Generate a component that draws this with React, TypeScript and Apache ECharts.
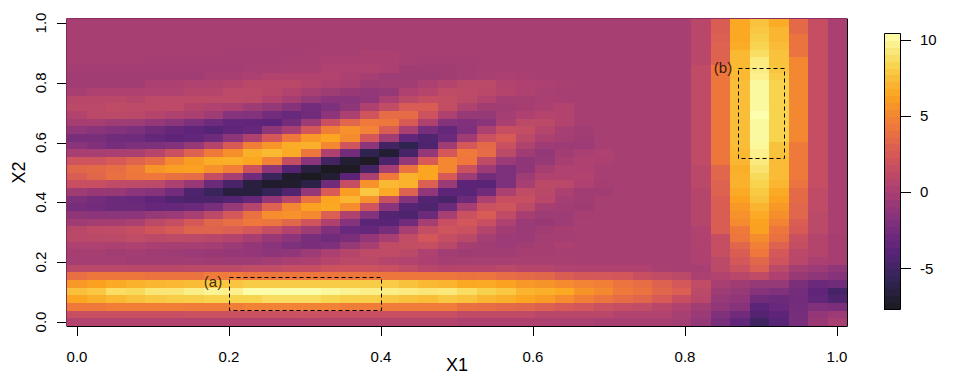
import React, { useEffect, useRef } from "react";
import * as echarts from "echarts";

// Rows run from the top of the plot (X2 = 1) to the bottom (X2 = 0); 40 columns, X1 = 0 to 1.
const Z = 0;
const heatRows: number[][] = [
  [Z,Z,Z,Z,Z,Z,Z,Z,Z,Z,Z,Z,Z,Z,Z,Z,Z,Z,Z,Z, Z,Z,Z,Z,Z,Z,Z,Z,Z,Z,Z, -.05,.8,2.7,6.5,7.6,6.7,3.5,1.5,.1],
  [Z,Z,Z,Z,Z,Z,Z,Z,Z,Z,Z,Z,Z,Z,Z,Z,Z,Z,Z,Z, Z,Z,Z,Z,Z,Z,Z,Z,Z,Z,Z, -.05,.8,2.7,6.5,7.8,7.1,3.5,1.5,.1],
  [Z,Z,Z,Z,Z,Z,Z,Z,Z,Z,Z,Z,Z,Z,Z,Z,Z,Z,Z,Z, Z,Z,Z,Z,Z,Z,Z,Z,Z,Z,Z, -.05,.8,2.8,6.5,8.1,7.1,4,1.5,.1],
  [Z,Z,Z,Z,Z,Z,Z,Z,Z,Z,Z,-.1,-.1,Z,Z,Z,Z,Z,Z,Z, Z,Z,Z,Z,Z,Z,Z,Z,Z,Z,Z, -.05,.8,3,6.7,8.4,7.3,4,1.5,.1],
  [Z,Z,Z,Z,Z,Z,Z,Z,-.15,-.15,-.15,-.15,Z,Z,Z,.2,.2,Z,Z,Z, Z,Z,Z,Z,Z,Z,Z,Z,Z,Z,Z, -.05,.8,3,7.2,8.8,7.6,4,1.5,.1],
  [Z,Z,Z,Z,-.2,-.2,-.2,-.2,-.2,-.2,-.2,Z,Z,.2,.2,.2,.2,Z,-.2,-.2, -.2,Z,Z,Z,Z,Z,Z,Z,Z,Z,Z, -.05,.8,3,7.2,9.4,7.6,5,1.5,.1],
  [-.25,-.25,-.25,-.25,-.25,-.25,-.25,-.25,-.25,Z,Z,.1,.1,.4,.4,.4,.2,-.3,-.3,-.3, -.2,Z,Z,Z,Z,Z,Z,Z,Z,Z,Z, -.05,1.2,4.2,7.2,9.5,7.7,5,1.5,.1],
  [-.3,-.3,-.3,-.3,-.3,-.3,-.3,Z,Z,.2,.5,.5,.5,.5,.2,Z,-.5,-.5,-.5,-.3, -.2,.1,.2,.1,Z,Z,Z,Z,Z,Z,Z, -.05,1.2,4.2,7.2,9.7,8,5,1.5,.1],
  [-.3,-.3,-.3,-.3,.2,.2,.4,.4,.6,.9,.9,.9,.6,.3,.1,-.4,-.3,-.3,.2,.6, 1,1,.5,.3,.2,.1,Z,Z,Z,Z,Z, -.05,1.2,4.2,7.4,10.1,8.3,5,1.5,.1],
  [Z,.3,.3,.3,.4,.4,.7,.7,1.1,1.1,.8,.5,Z,-.5,-.8,-1.1,-.9,.3,.7,1.2, 1.1,.9,.6,.3,.1,Z,Z,Z,Z,Z,Z, -.05,1.2,4.2,7.4,10.1,8.3,5,1.5,.1],
  [.8,.8,.9,.7,1.1,1.1,1.1,1.1,1.1,1,.5,-.1,-.9,-1.6,-1.6,-1.2,.1,1,1.5,1.4, 1,.5,-.2,-.1,.1,Z,Z,Z,Z,Z,Z, -.05,1.2,4.2,7.4,10.1,8.3,5,1.5,.1],
  [1,1,1.2,1.1,1.1,1.1,.6,.4,.2,-.5,-1,-1.7,-2.7,-2.2,-1.3,.3,1.3,2.6,2.6,1.4, .4,-.3,-.3,-.1,.2,.5,Z,Z,Z,Z,Z, -.05,1.2,4.2,7.4,10.1,8.3,5,1.5,.1],
  [.5,1,1,.9,.6,.3,.1,-.5,-1.8,-1.9,-2.7,-3.2,-2.8,-1.4,.2,2,3.6,3.6,1.9,.3, -.9,-.9,-.2,.3,.6,.5,Z,Z,Z,Z,Z, -.05,1.2,4.2,7.4,10.4,8.3,5,1.5,.1],
  [-.1,-.1,-.5,-.5,-1,-1.5,-2.2,-2.9,-3.5,-3.6,-3.7,-2.6,-.6,1.7,3.2,4.4,4.2,2.5,.3,-1.9, -2,-1.6,.1,1,1,.5,Z,Z,Z,Z,Z, -.05,1.2,4.2,7.4,10.1,8.3,5,1.5,.1],
  [-1.2,-1.6,-1.9,-2.2,-2.8,-3.3,-3.6,-4.1,-3.6,-3.3,-1.3,Z,2.2,4.6,5.5,4.8,2.7,.1,-2.5,-3.4, -2.1,.2,1.6,1.4,.7,Z,-.3,Z,Z,Z,Z, -.05,1.2,4.2,7.4,10.1,8.3,5,1.5,.1],
  [-2.4,-2.4,-2.8,-2.9,-3.4,-3.7,-3.5,-2.9,-1.4,.3,2.3,4.3,5.8,6.4,5.2,2.3,-.3,-3.5,-4.3,-3, -.4,1.8,2.5,1,.2,-.2,-.4,Z,Z,Z,Z, -.05,1.2,4.2,7.4,10.1,8.3,5,1.5,.1],
  [-1.6,-2,-2.5,-2.2,-2.2,-1.9,-.9,.6,2.5,4.6,5.7,6.7,6.8,5,2,-1.4,-5,-6,-4.4,-.4, 2.3,3.5,1.7,.4,-.5,-.6,-.6,Z,Z,Z,Z, -.05,1.2,4.2,7.4,10,7.6,4.4,1.5,.1],
  [Z,Z,.1,.1,.7,1.7,3,4.4,5.4,6.8,7.2,6.6,4.2,.3,-2.7,-6,-7,-4.8,-1,2.3, 4.4,3.6,1,-.4,-1,-.3,.1,.3,Z,Z,Z, -.05,1.2,4.2,7.2,9.7,7.6,4.4,1.5,.1],
  [2,2,2.5,3.1,3.7,5.1,6,6.7,6.8,6.4,4.8,1.4,-1.6,-5,-7,-7.5,-4.6,-1,2.5,5, 4.3,1.2,-.7,-1.3,-.9,Z,.3,.2,Z,Z,Z, -.05,1.2,4.2,7.1,9.4,7.3,4.4,1.5,.1],
  [3.3,3.5,3.7,4.4,5.7,6.1,6.2,5.5,4.7,1.9,-1.3,-4.2,-6.5,-7.7,-7.5,-4.9,-.2,4,6.4,5, 1.8,-.6,-2.2,-1.3,-.1,.4,.3,Z,Z,Z,Z, -.05,.9,3.2,6.8,9,7.3,4.4,1.5,.1],
  [2.7,3.2,3.9,4.2,4.3,3.9,3.6,1.4,-.2,-2.8,-5.4,-7.3,-7.7,-7,-3.8,.2,4.4,6.9,6.4,2.5, -.5,-2.6,-2.2,-.5,.4,.4,.5,Z,Z,Z,Z, Z,.9,3.2,6.9,8.6,7.3,4.4,1.5,.1],
  [1.6,1.6,1.2,1.1,1,.2,-.8,-3,-4.7,-6.6,-7.3,-7.2,-6.3,-2.8,1.5,5.5,7.2,6.9,2.8,-.7, -3.8,-3.9,-2.2,Z,1,.9,.3,-.2,Z,Z,Z, Z,.9,3,6.9,8.3,7.1,4,1.5,.1],
  [-.4,-.8,-.8,-1.4,-1.7,-2.7,-4.4,-5.4,-6.6,-6.6,-5.6,-4.3,-1,2.6,6.1,7.8,6.6,3,-1.2,-3.7, -3.9,-2.8,.2,1.3,.9,.2,-.3,-.3,Z,Z,Z, Z,.7,3,6.6,7.9,6.6,3.5,1.2,.1],
  [-2.2,-2.6,-3,-3.2,-3.6,-4.3,-4.5,-4.6,-4.2,-3.3,-1.1,.8,4,6.4,7.1,5.5,1.7,-1.8,-4.2,-4.7, -3,.2,1.6,1.6,.8,-.2,-.3,Z,Z,Z,Z, Z,.7,2.7,6.3,7.6,6.3,3.5,1.2,.1],
  [-2.5,-2.7,-3,-3,-3.3,-3.4,-3.1,-2.4,-.9,.7,3,5,6.2,6.5,5.3,2,-1.6,-4.1,-4.4,-3, -.2,1.8,2,1.1,-.1,-.3,-.4,Z,Z,Z,Z, Z,.7,2.7,5.8,7,5.8,3.2,1.2,.1],
  [-1.3,-1.4,-1.5,-1.4,-.9,-.7,Z,1,2.3,3.9,5.3,5.5,5.1,2.8,.4,-1.9,-4.2,-4.4,-3,Z, 1.8,2.6,1.2,-.1,-.5,-.5,-.1,Z,Z,Z,Z, Z,.7,2.7,5.5,6.6,5.4,3.2,1,.1],
  [-.4,-.2,-.1,.2,1,1.5,2.4,3.3,3.8,4.3,4.1,3.3,2,.3,-1.8,-3.9,-4,-2.8,-.1,1.6, 2.2,1.6,.3,-.7,-.8,-.5,Z,Z,Z,Z,Z, Z,.7,2.7,5.2,6.3,4.9,2.7,1,.1],
  [.8,1.2,1.3,1.6,2.1,2.5,3.1,3.1,2.8,2.3,1.4,.5,-.5,-2,-3.2,-3.4,-2.5,Z,1.4,2, 1.8,.6,-.3,-.7,-.3,-.1,Z,Z,Z,Z,Z, Z,.4,2.7,4.4,6.2,4.2,2.5,1,.1],
  [.9,1,1,1.3,1,1.1,1,.8,.6,Z,-.8,-1.4,-2.4,-2.8,-2.3,-1.1,Z,1.3,2.2,1.5, .9,-.2,-.6,-.7,-.2,-.2,Z,Z,Z,Z,Z, Z,.4,1.5,4.2,5.3,3.9,1.7,.6,-.1],
  [.3,.3,.2,.3,.1,Z,Z,-.2,-.6,-1.1,-1.6,-2.2,-2.4,-2.1,-.9,Z,1.2,1.4,1.5,.9, -.1,-.3,-.6,-.3,-.1,.2,Z,Z,Z,Z,Z, Z,.4,1.5,3.2,4.7,3,1.5,.6,-.1],
  [-.1,Z,-.3,-.2,-.4,-.5,-.7,-.8,-1,-1.1,-1.4,-1.2,-.6,.2,.7,1.2,1.2,1,.3,-.3, -.4,-.3,-.3,-.1,-.1,Z,Z,Z,Z,Z,Z, Z,.3,1.5,2.7,4.3,2.3,.9,.6,-.1],
  [-.2,-.2,-.2,-.3,-.3,-.3,-.3,-.4,-.5,-.5,-.2,.1,.2,.7,1,1,.7,.5,.2,-.1, Z,Z,.1,.1,.1,.1,Z,Z,Z,Z,Z, Z,.3,1,2.3,3.3,2,.8,.1,-.1],
  [.9,.9,.9,.9,.9,.9,1,1,1,1.3,1.3,1.5,1.5,1.9,1.9,1.9,1.7,1.3,.8,.6, .7,.7,.9,.7,.7,.4,.4,.4,.4,.4,.1, Z,Z,1,1.8,2.8,1,-.2,-.6,-1.2],
  [3.8,4.2,4.2,4.2,4,4,4,4.5,4.5,4.2,4.2,4.2,4.2,4.2,4.2,4.2,4.2,4.2,4.2,4.2, 4,4.1,3.7,3.4,3.3,2.7,2.4,2.3,2.2,1.6,1.3, 1,.2,.5,.8,1.2,.3,-.8,-1.3,-1.7],
  [5.8,6.2,6.6,6.9,7.1,7.2,7.3,7.7,7.7,8,8,8,8,8,8,8,8,7.6,7.2,7, 6.5,6.6,6.3,5.8,5.6,5.2,4.9,4.7,4.1,3.7,3, 2.3,1.3,Z,-.4,-.9,-.9,-2.3,-3.1,-2.8],
  [7.5,7.8,8.8,8.6,9.2,9.2,9.6,9.9,9.7,10.3,10.3,10.3,10.3,10,9.8,9.6,9.6,9.4,9.2,9.3, 8.8,8.2,7.8,7,6.8,6.5,5.6,5.1,4.4,4,3.2, 2.8,1,-.4,-.9,-1.7,-2,-2.6,-3.6,-4.8],
  [6.4,6.8,7.2,7.5,7.8,8,8.1,8.3,8.3,8.3,8.7,8.7,8.7,8.4,8.1,8.1,7.8,7.5,7.4,7.8, 7.6,7.1,6.8,6.4,6,5.3,4.6,4.1,3.6,3.2,2.5, 1.6,.8,-.9,-1.2,-2.8,-3,-2.7,-3.5,-4.3],
  [4.4,4.4,4.6,4.6,4.6,4.6,4.5,4.5,4.5,4.8,4.8,4.8,4.8,4.8,4.5,4.5,4.5,4.5,4.5,4.5, 3.9,3.7,3.5,3.3,2.9,2.5,2.2,1.8,1.5,1.3,.8, .4,-.3,-1.2,-1.7,-3.8,-3.2,-2.6,-2,-2.3],
  [1.6,1.6,1.6,1.6,1.6,1.6,1.8,1.8,1.8,1.8,1.8,1.8,1.8,1.6,1.6,1.6,1.6,1.6,1.6,1.6, 1.2,1.2,1.2,1.2,.8,.8,.8,.8,.5,.5,.5, Z,-.7,-2,-2.8,-4.2,-3.7,-2.5,-1.1,-.6],
  [.5,.5,.5,.5,.5,.5,.5,.5,.5,.5,.5,.5,.6,.6,.6,.6,.6,.6,.6,.6, .3,.3,.3,.3,.3,.2,.2,Z,Z,Z,Z, -.2,-1,-2.4,-3.5,-5.1,-4,-2.4,-.8,Z],
];

const colorbarLevels = [
  -7.57,-7.12,-6.66,-6.21,-5.75,-5.3,-4.84,-4.39,-3.93,-3.48,-3.02,-2.57,-2.11,-1.66,-1.2,-0.75,-0.29,0.16,0.62,1.07,
  1.53,1.98,2.44,2.89,3.35,3.8,4.26,4.71,5.17,5.62,6.08,6.53,6.99,7.44,7.9,8.35,8.81,9.26,9.72,10.17,
];
const infernoColors = ["#1A1A1D","#322455","#5D247A","#86337C","#AE4170","#D45759","#EF783B","#FBA41F","#F8D550","#FCFFAD"];
const colorMin = -7.8;
const colorMax = 10.4;

const axisTicks = [0, 0.2, 0.4, 0.6, 0.8, 1];
const colorbarTicks = [-5, 0, 5, 10];
// x0, y0, x1, y1 of the two dashed boxes
const dashedBoxes = [
  [0.2, 0.04, 0.4, 0.15],
  [0.87, 0.55, 0.93, 0.85],
];
const boxLabels = [
  { value: [0.179, 0.137], text: "(a)" },
  { value: [0.85, 0.85], text: "(b)" },
];

const FONT = "'Liberation Sans', Arial, sans-serif";
const tickLabel = { fontFamily: FONT, fontSize: 15, color: "#000" };
const noTick = { show: false };
const noLine = { show: false };

const snap = (v: number) => Math.floor(v + 0.5 + 1e-6);

const renderCell = (_: unknown, api: any) => {
  const c = api.coord([api.value(0), api.value(1)]);
  const s = api.size([1, 1]);
  const x0 = snap(c[0] - s[0] / 2);
  const x1 = snap(c[0] + s[0] / 2);
  const y0 = snap(c[1] - s[1] / 2);
  const y1 = snap(c[1] + s[1] / 2);
  return { type: "rect", shape: { x: x0, y: y0, width: x1 - x0, height: y1 - y0 }, style: { fill: api.visual("color") } };
};

const stroke = { stroke: "#000", lineWidth: 1, fill: "none" };
const tickShape = (x1: number, y1: number, x2: number, y2: number) => ({
  type: "line",
  shape: { x1, y1, x2, y2 },
  style: stroke,
});

// Ticks start at the plot box, which lies outside the tick-value range: pushed out by fixed gaps.
const renderXTick = (_: unknown, api: any) => {
  const p = api.coord([api.value(0), 0]);
  const x = Math.round(p[0]) + 0.5;
  return tickShape(x, 326, x, 336);
};
const renderYTick = (_: unknown, api: any) => {
  const p = api.coord([0, api.value(0)]);
  const y = Math.round(p[1]) + 0.5;
  return tickShape(57, y, 67, y);
};
const renderBarTick = (_: unknown, api: any) => {
  const p = api.coord([1, api.value(0)]);
  const y = Math.round(p[1]) + 0.5;
  return tickShape(p[0] + 1, y, p[0] + 11, y);
};
const renderBox = (_: unknown, api: any) => {
  const a = api.coord([api.value(0), api.value(1)]);
  const b = api.coord([api.value(2), api.value(3)]);
  const x0 = Math.round(a[0]) + 0.5;
  const x1 = Math.round(b[0]) + 0.5;
  const y0 = Math.round(a[1]) + 0.5;
  const y1 = Math.round(b[1]) + 0.5;
  return {
    type: "rect",
    shape: { x: x0, y: y1, width: x1 - x0, height: y0 - y1 },
    style: { stroke: "#000", lineWidth: 1, fill: "none", lineDash: [4, 3] },
  };
};

export default function App() {
  const ref = useRef<HTMLDivElement>(null);
  useEffect(() => {
    const chart = echarts.init(ref.current!, undefined, { renderer: "svg" });
    const n = heatRows.length;
    const cols = heatRows[0].length;
    const heatData: number[][] = [];
    heatRows.forEach((row, r) => row.forEach((v, c) => heatData.push([c, n - 1 - r, v])));
    const idx = (k: number) => Array.from({ length: k }, (_, i) => String(i));
    const noBounds = { outerBoundsMode: "none", containLabel: false };

    chart.setOption({
      animation: false,
      backgroundColor: "#fff",
      textStyle: { fontFamily: FONT },
      grid: [
        { left: 67, top: 19, width: 780, height: 307, ...noBounds },
        { left: 77, top: 23, width: 760, height: 299, ...noBounds },
        { left: 884, top: 34, width: 16, height: 276, ...noBounds },
        { left: 884, top: 39.5, width: 16, height: 228.5, ...noBounds },
      ],
      xAxis: [
        { type: "category", gridIndex: 0, data: idx(cols), axisLabel: { show: false }, axisTick: noTick, axisLine: { show: true, lineStyle: { color: "#000", width: 1 } }, splitLine: { show: false } },
        { type: "value", gridIndex: 1, min: 0, max: 1, interval: 0.2, offset: 4, axisLine: noLine, axisTick: noTick, splitLine: { show: false },
          axisLabel: { ...tickLabel, margin: 23, formatter: (v: number) => v.toFixed(1) }, name: "X1", nameLocation: "middle", nameGap: 30, nameMoveOverlap: false, nameTextStyle: { fontFamily: FONT, fontSize: 18, color: "#000" } },
        { type: "category", gridIndex: 2, data: ["c"], show: false },
        { type: "value", gridIndex: 3, min: 0, max: 1, show: false },
      ],
      yAxis: [
        { type: "category", gridIndex: 0, position: "right", data: idx(n), axisLabel: { show: false }, axisTick: noTick, axisLine: { show: true, lineStyle: { color: "#000", width: 1 } }, splitLine: { show: false } },
        { type: "value", gridIndex: 1, min: 0, max: 1, interval: 0.2, offset: 10, axisLine: noLine, axisTick: noTick, splitLine: { show: false },
          axisLabel: { ...tickLabel, rotate: 90, margin: 19, formatter: (v: number) => v.toFixed(1) }, name: "X2", nameLocation: "middle", nameGap: 39, nameMoveOverlap: false, nameTextStyle: { fontFamily: FONT, fontSize: 18, color: "#000" } },
        { type: "category", gridIndex: 2, data: idx(colorbarLevels.length), show: false },
        { type: "value", gridIndex: 3, position: "right", min: -5, max: 10, interval: 5, axisLine: noLine, axisTick: noTick, splitLine: { show: false },
          axisLabel: { ...tickLabel, margin: 20, align: "left" } },
      ],
      visualMap: {
        show: false, type: "continuous", min: colorMin, max: colorMax, seriesIndex: [0, 1], dimension: 2,
        inRange: { color: infernoColors },
      },
      series: [
        { type: "custom", xAxisIndex: 0, yAxisIndex: 0, data: heatData, encode: { x: 0, y: 1 }, renderItem: renderCell, z: 1, silent: true },
        { type: "custom", xAxisIndex: 2, yAxisIndex: 2, data: colorbarLevels.map((v, i) => [0, i, v]), encode: { x: 0, y: 1 }, renderItem: renderCell, z: 1, silent: true },
        { type: "custom", xAxisIndex: 1, yAxisIndex: 1, data: dashedBoxes, encode: { x: [0, 2], y: [1, 3] }, renderItem: renderBox, z: 5, silent: true },
        { type: "custom", xAxisIndex: 1, yAxisIndex: 1, data: axisTicks.map((v) => [v, 0]), encode: { x: 0, y: 1 }, renderItem: renderXTick, z: 5, silent: true },
        { type: "custom", xAxisIndex: 1, yAxisIndex: 1, data: axisTicks.map((v) => [v, 0]), encode: { x: 1, y: 0 }, renderItem: renderYTick, z: 5, silent: true },
        { type: "custom", xAxisIndex: 3, yAxisIndex: 3, data: colorbarTicks.map((v) => [v]), encode: { y: 0 }, renderItem: renderBarTick, z: 5, silent: true },
        { type: "scatter", xAxisIndex: 1, yAxisIndex: 1, symbolSize: 0, z: 6, silent: true,
          data: boxLabels.map((d) => ({ value: d.value, label: { show: true, position: "inside", formatter: d.text, fontFamily: FONT, fontSize: 15, color: "#000" } })) },
      ],
      graphic: [
        { type: "rect", z: 10, silent: true, shape: { x: 884.5, y: 33.5, width: 16, height: 276 }, style: { fill: "none", stroke: "#000", lineWidth: 1 } },
        { type: "line", z: 10, silent: true, shape: { x1: 66.5, y1: 18.5, x2: 847, y2: 18.5 }, style: { stroke: "#8B2D62", lineWidth: 1 } },
        { type: "line", z: 10, silent: true, shape: { x1: 66.5, y1: 18.5, x2: 66.5, y2: 326 }, style: { stroke: "#7B3058", lineWidth: 1 } },
      ],
    });
    return () => chart.dispose();
  }, []);
  return <div ref={ref} style={{ position: "fixed", left: 0, top: 0, width: 974, height: 380 }} />;
}
